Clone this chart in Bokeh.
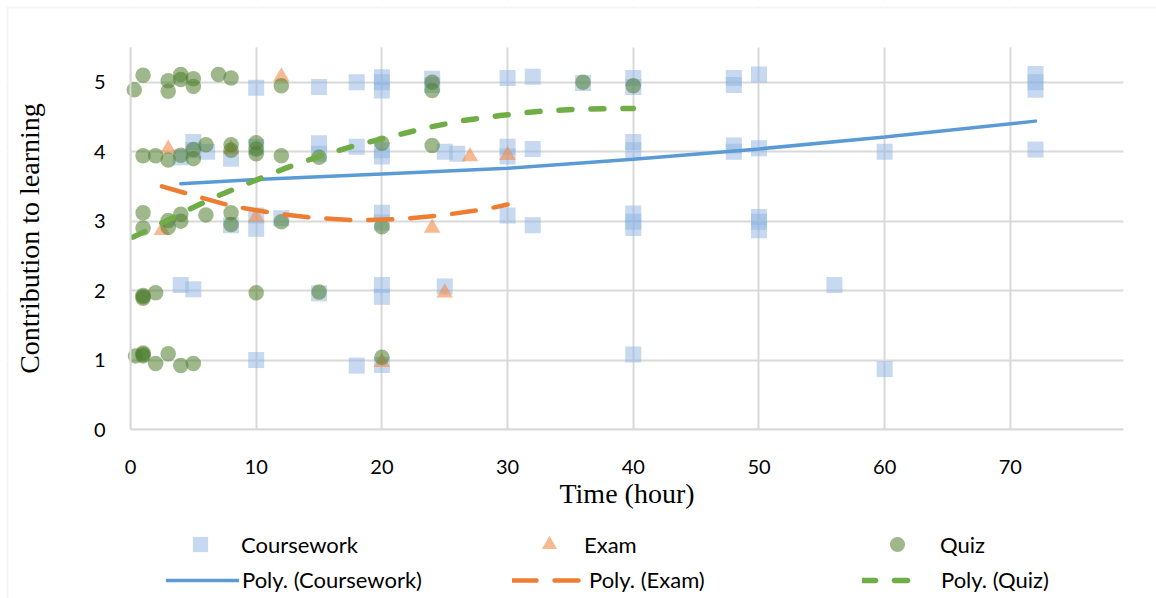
from bokeh.plotting import figure
from bokeh.models import Legend, LegendItem, FixedTicker, BoxAnnotation, Range1d
from bokeh.embed import file_html
from bokeh.resources import INLINE

# ---- data ----
x_ticks = [0, 10, 20, 30, 40, 50, 60, 70]
y_ticks = [0, 1, 2, 3, 4, 5]

coursework_x = [10, 15, 18, 20, 20, 20, 24, 24, 30, 32, 36, 40, 40, 48, 48, 50, 72, 72, 72,
                4, 5, 5, 6.1, 8, 10, 15, 15, 18, 20, 20, 25, 26, 30, 30, 32, 40, 40, 48, 48, 50, 60, 72,
                8, 10, 10, 12, 20, 20, 30, 32, 40, 40, 40, 50, 50, 50,
                4, 5, 15, 20, 20, 25, 56,
                10, 18, 20, 40, 60]
coursework_y = [4.92, 4.93, 5.0, 5.07, 5.0, 4.88, 5.05, 4.96, 5.06, 5.08, 4.99, 5.06, 4.93, 5.06, 4.96, 5.11, 5.12, 5.0, 4.89,
                3.92, 4.14, 4.02, 4.0, 3.9, 4.07, 4.12, 3.97, 4.07, 4.02, 3.93, 4.0, 3.97, 4.07, 3.93, 4.04, 4.14, 4.02, 4.09, 4.0, 4.05, 4.0, 4.03,
                2.94, 3.08, 2.89, 3.04, 3.12, 2.98, 3.08, 2.94, 3.11, 2.99, 2.9, 3.06, 2.99, 2.87,
                2.08, 2.02, 1.96, 2.08, 1.91, 2.06, 2.08,
                1.0, 0.92, 0.93, 1.08, 0.87]

exam_x = [12, 3, 8, 27, 30, 2.5, 10, 24, 25, 20]
exam_y = [5.08, 4.04, 4.04, 3.93, 3.95, 2.87, 3.06, 2.9, 1.97, 0.97]

quiz_x = [0.3, 1, 3, 3, 4, 4, 5, 5, 7, 8, 12, 24, 24, 36, 40,
          1, 2, 3, 4, 5, 5, 6, 8, 8, 10, 10, 10, 12, 15, 20, 24,
          1, 1, 3, 3, 4, 4, 6, 8, 8, 12, 20,
          1, 1, 1, 2, 10, 15,
          0.4, 1, 1, 1, 2, 3, 4, 5, 20]
quiz_y = [4.89, 5.10, 5.02, 4.87, 5.11, 5.04, 5.05, 4.94, 5.11, 5.06, 4.95, 5.0, 4.88, 5.0, 4.95,
          3.94, 3.94, 3.88, 3.95, 4.03, 3.9, 4.1, 4.1, 4.02, 4.13, 4.04, 3.97, 3.94, 3.92, 4.12, 4.09,
          3.12, 2.9, 3.01, 2.91, 3.1, 3.0, 3.09, 3.12, 2.95, 2.99, 2.92,
          1.91, 1.89, 1.93, 1.97, 1.97, 1.98,
          1.06, 1.08, 1.1, 1.06, 0.95, 1.09, 0.92, 0.95, 1.04]

# trend lines
poly_course_x = [4, 10, 20, 30, 40, 50, 60, 72]
poly_course_y = [3.54, 3.60, 3.68, 3.76, 3.89, 4.04, 4.21, 4.44]
poly_exam_x = [2.5, 5, 8, 11.5, 14.5, 18, 21.5, 25, 28.5, 30]
poly_exam_y = [3.50, 3.37, 3.22, 3.11, 3.05, 3.01, 3.03, 3.09, 3.18, 3.24]
poly_quiz_x = [0.2, 1.6, 4.2, 6.9, 9.7, 12.3, 15.1, 17.9, 21, 23.7, 26.5, 29.4, 32.4, 35.3, 38.3, 40]
poly_quiz_y = [2.77, 2.89, 3.13, 3.36, 3.57, 3.76, 3.94, 4.09, 4.23, 4.35, 4.45, 4.52, 4.58, 4.61, 4.62, 4.62]

x_title = "Time (hour)"
y_title = "Contribution to learning"

X_MIN, X_MAX = 0, 79
Y_MIN, Y_MAX = 0, 5.5

# ---- geometry of the plotting area inside the 1156x598 canvas ----
W, H = 1156, 598
PX_LEFT, PX_RIGHT, PX_TOP, PX_BOTTOM = 130, 1123, 47, 429
sx = (PX_RIGHT - PX_LEFT) / (X_MAX - X_MIN)
sy = (PX_BOTTOM - PX_TOP) / (Y_MAX - Y_MIN)
xr = Range1d(X_MIN - PX_LEFT / sx, X_MIN + (W - PX_LEFT) / sx)
yr = Range1d(Y_MIN - (H - PX_BOTTOM) / sy, Y_MIN + PX_BOTTOM / sy)

p = figure(width=W, height=H, output_backend="svg", toolbar_location=None,
           x_range=xr, y_range=yr, min_border=0)
p.outline_line_color = None
p.background_fill_color = "white"
p.border_fill_color = "white"

p.xaxis.fixed_location = Y_MIN
p.yaxis.fixed_location = X_MIN
p.xaxis.bounds = (X_MIN, X_MAX)
p.yaxis.bounds = (Y_MIN, Y_MAX)
p.xaxis.ticker = FixedTicker(ticks=x_ticks)
p.yaxis.ticker = FixedTicker(ticks=y_ticks)
for ax in (p.xaxis, p.yaxis):
    ax.major_tick_line_color = None
    ax.minor_tick_line_color = None
    ax.axis_line_color = "#d9d9d9"
    ax.axis_line_width = 2
    ax.major_label_text_font = "Lato"
    ax.major_label_text_font_size = "20px"
    ax.major_label_text_color = "black"
    ax.axis_label_text_font = "Liberation Serif"
    ax.axis_label_text_font_size = "28px"
    ax.axis_label_text_font_style = "normal"
    ax.axis_label_text_color = "black"
p.xaxis.axis_label = x_title
p.yaxis.axis_label = y_title
p.xaxis.major_label_standoff = 24
p.xaxis.axis_label_standoff = 1
p.yaxis.major_label_standoff = 19
p.yaxis.axis_label_standoff = 46

p.xgrid.grid_line_color = "#d9d9d9"
p.ygrid.grid_line_color = "#d9d9d9"
p.xgrid.grid_line_width = 2
p.ygrid.grid_line_width = 2

# white masks so that grid lines stop at the edges of the plotting area
for kw in (dict(top=Y_MIN), dict(bottom=Y_MAX), dict(right=X_MIN), dict(left=X_MAX)):
    p.add_layout(BoxAnnotation(fill_color="white", fill_alpha=1, line_color=None,
                               level="underlay", **kw))

r_c = p.scatter(coursework_x, coursework_y, marker="square", size=16,
                fill_color="#8db4e2", fill_alpha=0.5, line_color=None)
r_e = p.scatter(exam_x, exam_y, marker="triangle", size=16.5,
                fill_color="#f08a4b", fill_alpha=0.6, line_color=None)
r_q = p.scatter(quiz_x, quiz_y, marker="circle", size=15.5,
                fill_color="#4e7d2d", fill_alpha=0.55, line_color=None)

l_c = p.line(poly_course_x, poly_course_y, line_color="#5b9bd5", line_width=3.5, line_cap="round")
l_e = p.line(poly_exam_x, poly_exam_y, line_color="#ed7d31", line_width=4.5,
             line_dash="24 18", line_cap="round")
l_q = p.line(poly_quiz_x, poly_quiz_y, line_color="#70ad47", line_width=5.5,
             line_dash="13 19", line_cap="round")

# ---- legend: one box per entry, placed like the reference ----
def add_leg(label, rend, left, center_y, gw, gh, standoff):
    bottom = center_y + gh / 2
    leg = Legend(items=[LegendItem(label=label, renderers=[rend])],
                 location=(left, H - bottom), padding=0, margin=0, spacing=0,
                 glyph_width=gw, glyph_height=gh, label_standoff=standoff,
                 label_text_font="Lato", label_text_font_size="22px",
                 label_text_color="black", label_height=22,
                 border_line_alpha=0, background_fill_alpha=0)
    p.add_layout(leg)

add_leg("Coursework", r_c, 181, 544, 38, 38, 22)
add_leg("Exam", r_e, 530, 544, 38, 38, 16)
add_leg("Quiz", r_q, 878, 544, 38, 38, 24)
add_leg("Poly. (Coursework)", l_c, 166, 582, 73, 22, 3)
add_leg("Poly. (Exam)", l_e, 512, 582, 70, 22, 7)
add_leg("Poly. (Quiz)", l_q, 862, 582, 59, 22, 20)

# outer chart-area border (left and top visible in the reference)
p.add_layout(BoxAnnotation(left=7, top=7, right=1300, bottom=900,
                           left_units="canvas", right_units="canvas",
                           top_units="canvas", bottom_units="canvas",
                           fill_alpha=0, line_color="#d9d9d9", line_width=2))

open("out.html", "w").write(file_html(p, INLINE))
